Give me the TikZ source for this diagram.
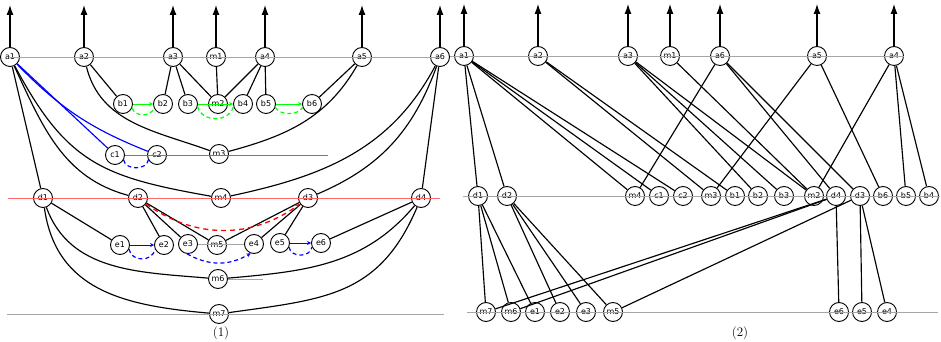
\documentclass[tikz,border=0pt]{standalone}
\usepackage{fontspec}
\newfontfamily\vtxfont{DejaVu Sans}
\usepackage{tikz}
\usetikzlibrary{arrows.meta,positioning}
\tikzset{
  vtx/.style={circle,draw,line width=0.9pt,minimum size=19pt,inner sep=0pt,font=\vtxfont\fontsize{8}{9}\selectfont},
  link/.style={line width=1.15pt},
  uparr/.style={-{Latex[length=10pt,width=7pt]},line width=1.15pt},
  guide/.style={draw=gray!70,line width=0.6pt},
  bluelink/.style={link,color=blue},
  grnarr/.style={-{Stealth[length=4pt,width=4pt]},line width=0.9pt,color=green},
  grndash/.style={dashed,dash pattern=on 4pt off 3pt,line width=1.2pt,color=green},
  bluarr/.style={-{Stealth[length=4pt,width=4pt]},line width=0.9pt,color=blue},
  bludash/.style={dashed,dash pattern=on 4pt off 3pt,line width=1.2pt,color=blue},
  reddash/.style={-{Stealth[length=5pt,width=4pt]},dashed,dash pattern=on 5pt off 4pt,line width=1.3pt,color=red},
  capnode/.style={font=\fontsize{13}{15}\selectfont}
}

\begin{document}
\begin{tikzpicture}[x=1pt,y=1pt]
  \useasboundingbox (0,0) rectangle (941,342);

  %% (1) rows of vertices
  \node[vtx] (a1) at (10,285) {a1};
  \node[vtx] (a2) at (84,285) {a2};
  \node[vtx] (a3) at (173,285) {a3};
  \node[vtx] (m1) at (216,285) {m1};
  \node[vtx] (a4) at (265,285) {a4};
  \node[vtx] (a5) at (362,285) {a5};
  \node[vtx] (a6) at (440,285) {a6};

  \node[vtx] (b1) at (123,238) {b1};
  \node[vtx] (b2) at (163,238) {b2};
  \node[vtx] (b3) at (188,238) {b3};
  \node[vtx] (m2) at (218,238) {m2};
  \node[vtx] (b4) at (243,238) {b4};
  \node[vtx] (b5) at (266,238) {b5};
  \node[vtx] (b6) at (312,238) {b6};

  \node[vtx] (c1) at (115,187) {c1};
  \node[vtx] (c2) at (157,187) {c2};
  \node[vtx] (m3) at (219,188) {m3};

  \node[vtx] (d1) at (43,144) {d1};
  \node[vtx] (d2) at (138,144) {d2};
  \node[vtx] (m4) at (221,144) {m4};
  \node[vtx] (d3) at (308,144) {d3};
  \node[vtx] (d4) at (421,144) {d4};

  \node[vtx] (e1) at (120,97) {e1};
  \node[vtx] (e2) at (164,97) {e2};
  \node[vtx] (e3) at (188,98) {e3};
  \node[vtx] (m5) at (217,97) {m5};
  \node[vtx] (e4) at (254,98) {e4};
  \node[vtx] (e5) at (280,99) {e5};
  \node[vtx] (e6) at (321,99) {e6};

  \node[vtx] (m6) at (218,63) {m6};
  \node[vtx] (m7) at (219,28) {m7};

  \node[capnode] (cap1) at (221,9) {(1)};

  %% (1) guide lines
  \coordinate (cEnd) at (328,187);
  \coordinate (redL) at (8,144);
  \coordinate (redR) at (440,144);
  \coordinate (m6End) at (263,63);
  \coordinate (baseL) at (7,28);
  \coordinate (baseR) at (444,28);
  \draw[guide] (a1.center) -- (a6.center);
  \draw[blue!60,line width=0.6pt] (c1) -- (cEnd);
  \draw[red!60,line width=0.6pt] (redL) -- (redR);
  \draw[guide] (e3) -- (e4);
  \draw[guide] (m6) -- (m6End);
  \draw[guide] (baseL) -- (baseR);

  %% (1) arrows up
  \foreach \n in {a1,a2,a3,m1,a4,a5,a6}
    \draw[uparr] (\n) -- ++(0,52);

  %% (1) edges
  \draw[link] (a2) -- (b1);
  \draw[link] (a2) to[out=-76,in=160] (m3);
  \draw[link] (a3) -- (b2);
  \draw[link] (a3) -- (b3);
  \draw[link] (a3) -- (m2);
  \draw[link] (m1) -- (m2);
  \draw[link] (a4) -- (m2);
  \draw[link] (a4) -- (b4);
  \draw[link] (a4) -- (b5);
  \draw[link] (a5) -- (b6);
  \draw[link] (a5) to[out=-120,in=15] (m3);
  \draw[bluelink] (a1) -- (c1);
  \draw[bluelink] (a1) to[bend right=12] (c2);
  \draw[link] (a1) -- (d1);
  \draw[link] (a1) to[out=-65,in=165] (d2);
  \draw[link] (a1) to[out=-62,in=170,looseness=1.2] (m4);
  \draw[link] (a6) to[out=-118,in=12] (m4);
  \draw[link] (a6) to[out=-110,in=23] (d3);
  \draw[link] (a6) -- (d4);
  \draw[link] (d1) -- (e1);
  \draw[link] (d1) to[out=-70,in=175] (m6);
  \draw[link] (d1) to[out=-82,in=175,looseness=1.1] (m7);
  \draw[link] (d2) -- (e2);
  \draw[link] (d2) -- (e3);
  \draw[link] (d2) -- (m5);
  \draw[link] (d3) -- (m5);
  \draw[link] (d3) -- (e4);
  \draw[link] (d3) -- (e5);
  \draw[link] (d4) -- (e6);
  \draw[link] (d4) to[out=-130,in=5] (m6);
  \draw[link] (d4) to[out=-113,in=8,looseness=1.15] (m7);

  %% (1) coloured pairs
  \draw[grnarr] (b1) -- (b2);
  \draw[grndash] (b1.-25) to[out=-70,in=-110,looseness=1.1] (b2.-155);
  \draw[grnarr] (b3) -- (b4);
  \draw[grndash] (b3.-15) to[out=-75,in=-105,looseness=1.2] (b4.-165);
  \draw[grnarr] (b5) -- (b6);
  \draw[grndash] (b5.-20) to[out=-60,in=-120,looseness=0.9] (b6.-160);
  \draw[bludash] (c1.-30) to[out=-80,in=-100,looseness=1.1] (c2.-150);
  \draw[reddash] (d2) to[bend right=36] (d3);
  \draw[bluarr] (e1) -- (e2);
  \draw[bludash] (e1.-25) to[out=-80,in=-100,looseness=1.3] (e2.-155);
  \draw[bludash,-{Stealth[length=4pt,width=4pt]}] (e3.-95) to[bend right=30] (e4.-110);
  \draw[bluarr] (e5) -- (e6);
  \draw[bludash] (e5.-25) to[out=-80,in=-100,looseness=1.2] (e6.-155);

  %% (2) rows of vertices
  \node[vtx] (ra1) at (464,286) {a1};
  \node[vtx] (ra2) at (538,286) {a2};
  \node[vtx] (ra3) at (628,286) {a3};
  \node[vtx] (rm1) at (670,286) {m1};
  \node[vtx] (ra6) at (720,286) {a6};
  \node[vtx] (ra5) at (817,286) {a5};
  \node[vtx] (ra4) at (894,286) {a4};

  \node[vtx] (rd1) at (478,146) {d1};
  \node[vtx] (rd2) at (507,146) {d2};
  \node[vtx] (rm4) at (635,146) {m4};
  \node[vtx] (rc1) at (659,146) {c1};
  \node[vtx] (rc2) at (683,146) {c2};
  \node[vtx] (rm3) at (711,146) {m3};
  \node[vtx] (rb1) at (735,146) {b1};
  \node[vtx] (rb2) at (758,146) {b2};
  \node[vtx] (rb3) at (784,146) {b3};
  \node[vtx] (rm2) at (814,146) {m2};
  \node[vtx] (rd4) at (836,146) {d4};
  \node[vtx] (rd3) at (860,146) {d3};
  \node[vtx] (rb6) at (883,146) {b6};
  \node[vtx] (rb5) at (906,146) {b5};
  \node[vtx] (rb4) at (929,146) {b4};

  \node[vtx] (rm7) at (486,30) {m7};
  \node[vtx] (rm6) at (511,30) {m6};
  \node[vtx] (re1) at (535,30) {e1};
  \node[vtx] (re2) at (560,30) {e2};
  \node[vtx] (re3) at (586,30) {e3};
  \node[vtx] (rm5) at (613,30) {m5};
  \node[vtx] (re6) at (839,30) {e6};
  \node[vtx] (re5) at (862,30) {e5};
  \node[vtx] (re4) at (887,30) {e4};

  \node[capnode] (cap2) at (740,9) {(2)};

  %% (2) guide lines
  \coordinate (topL) at (450,286);
  \coordinate (topR) at (904,286);
  \coordinate (midL) at (463,146);
  \coordinate (midR) at (940,146);
  \coordinate (botL) at (467,30);
  \coordinate (botR) at (938,30);
  \draw[guide] (topL) -- (topR);
  \draw[guide] (midL) -- (midR);
  \draw[guide] (botL) -- (botR);

  %% (2) arrows up
  \foreach \n in {ra1,ra2,ra3,rm1,ra6,ra5,ra4}
    \draw[uparr] (\n) -- ++(0,52);

  %% (2) edges
  \foreach \s/\t in {ra1/rd1,ra1/rd2,ra1/rm4,ra1/rc1,ra1/rc2,
                     ra2/rb1,ra2/rm3,ra3/rb2,ra3/rb3,ra3/rm2,rm1/rm2,
                     ra6/rm4,ra6/rd3,ra6/rd4,ra5/rb6,ra5/rm3,
                     ra4/rm2,ra4/rb4,ra4/rb5,
                     rd1/rm7,rd1/rm6,rd1/re1,rd2/re2,rd2/re3,rd2/rm5,
                     rd3/rm5,rd3/re4,rd3/re5,rd4/re6,rd4/rm6,rd4/rm7}
    \draw[link] (\s) -- (\t);
\end{tikzpicture}
\end{document}
